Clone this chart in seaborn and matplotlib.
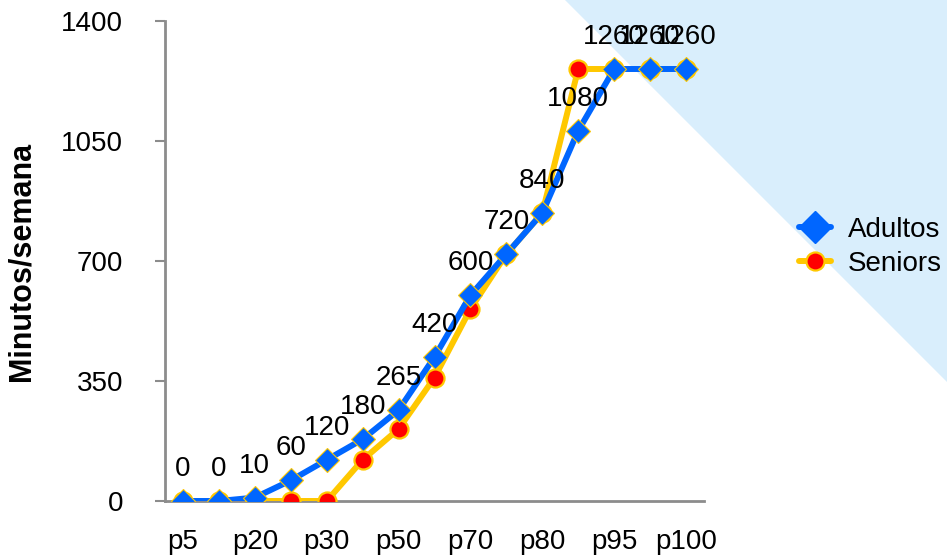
import matplotlib
matplotlib.use("Agg")
import matplotlib.pyplot as plt
from matplotlib.patches import Polygon
from matplotlib.lines import Line2D
import seaborn as sns
import pandas as pd

# Percentile categories and weekly minutes per group
percentiles = ["p5", "p10", "p20", "p25", "p30", "p40", "p50", "p60",
               "p70", "p75", "p80", "p90", "p95", "p99", "p100"]
adultos = [0, 0, 10, 60, 120, 180, 265, 420, 600, 720, 840, 1080, 1260, 1260, 1260]
seniors = [0, 0, 0, 0, 0, 120, 210, 360, 560, 720, 840, 1260, 1260, 1260, 1260]
y_ticks = [0, 350, 700, 1050, 1400]

BLUE = "#0066FF"
GOLD = "#FFC800"
RED = "#FF0000"
AXIS_GRAY = "#8C8C8C"
FS = 20

sns.set_theme(style="white")
plt.rcParams["font.family"] = ["Liberation Sans", "DejaVu Sans"]
plt.rcParams["text.color"] = "black"
plt.rcParams["axes.labelcolor"] = "black"
plt.rcParams["xtick.color"] = "black"
plt.rcParams["ytick.color"] = "black"

fig = plt.figure(figsize=(9.47, 5.6), dpi=100)
fig.patch.set_facecolor("white")

# light blue decorative wedge in the upper-right corner, behind everything
tri = Polygon([(565 / 947, 1.0), (1.0, 1.0), (1.0, 1 - 382 / 560)],
              closed=True, transform=fig.transFigure,
              facecolor="#D9EEFC", edgecolor="none", zorder=-5)
fig.patches.append(tri)

ax = fig.add_axes([165 / 947, 1 - 501 / 560, 539 / 947, 480 / 560])
ax.set_facecolor("none")

df = pd.DataFrame({"pos": range(len(percentiles)),
                   "Adultos": adultos, "Seniors": seniors})

sns.lineplot(data=df, x="pos", y="Seniors", ax=ax, color=GOLD, lw=4.3,
             marker="o", markersize=13, markerfacecolor=RED,
             markeredgecolor=GOLD, markeredgewidth=1.6, zorder=3)
sns.lineplot(data=df, x="pos", y="Adultos", ax=ax, color=BLUE, lw=4.3,
             marker="D", markersize=12, markerfacecolor=BLUE,
             markeredgecolor=GOLD, markeredgewidth=0.8, zorder=4)

# value labels above the Adultos points
for i, v in enumerate(adultos):
    ax.annotate(str(v), (i, v), xytext=(0, 23), textcoords="offset points",
                ha="center", va="center", fontsize=FS, color="black",
                zorder=5, annotation_clip=False)

ax.set_xlim(-0.5, len(percentiles) - 0.5)
ax.set_ylim(0, 1400)
ax.set_yticks(y_ticks)
ax.set_yticklabels([str(t) for t in y_ticks], fontsize=FS)

# category labels at every other point, tick marks between categories
ax.set_xticks(range(0, len(percentiles), 2))
ax.set_xticklabels(percentiles[::2], fontsize=FS)
ax.set_xticks([i + 0.5 for i in range(-1, len(percentiles))], minor=True)
ax.tick_params(axis="x", which="major", length=0, pad=20)
ax.tick_params(axis="x", which="minor", length=7, width=1.5,
               color=AXIS_GRAY, direction="out")
ax.tick_params(axis="y", which="major", length=7, width=1.5,
               color=AXIS_GRAY, direction="out", pad=23)
ax.tick_params(axis="both", bottom=True, left=True)

for side in ["top", "right"]:
    ax.spines[side].set_visible(False)
for side in ["left", "bottom"]:
    ax.spines[side].set_color(AXIS_GRAY)
    ax.spines[side].set_linewidth(2)

ax.set_xlabel("")
ax.set_ylabel("Minutos/semana", fontsize=22, fontweight="bold")
ax.yaxis.set_label_coords(-128 / 539, 0.5)

handles = [
    Line2D([], [], color=BLUE, lw=4.3, marker="D", markersize=16,
           markerfacecolor=BLUE, markeredgecolor=BLUE),
    Line2D([], [], color=GOLD, lw=4.3, marker="o", markersize=13,
           markerfacecolor=RED, markeredgecolor=GOLD, markeredgewidth=1.6),
]
fig.legend(handles, ["Adultos", "Seniors"], loc="center left",
           bbox_to_anchor=(785 / 947, 1 - 247 / 560), frameon=False,
           fontsize=FS, handlelength=1.15, handletextpad=0.6,
           labelspacing=0.3, borderpad=0)

fig.savefig("out.png", dpi=100, facecolor="white")
